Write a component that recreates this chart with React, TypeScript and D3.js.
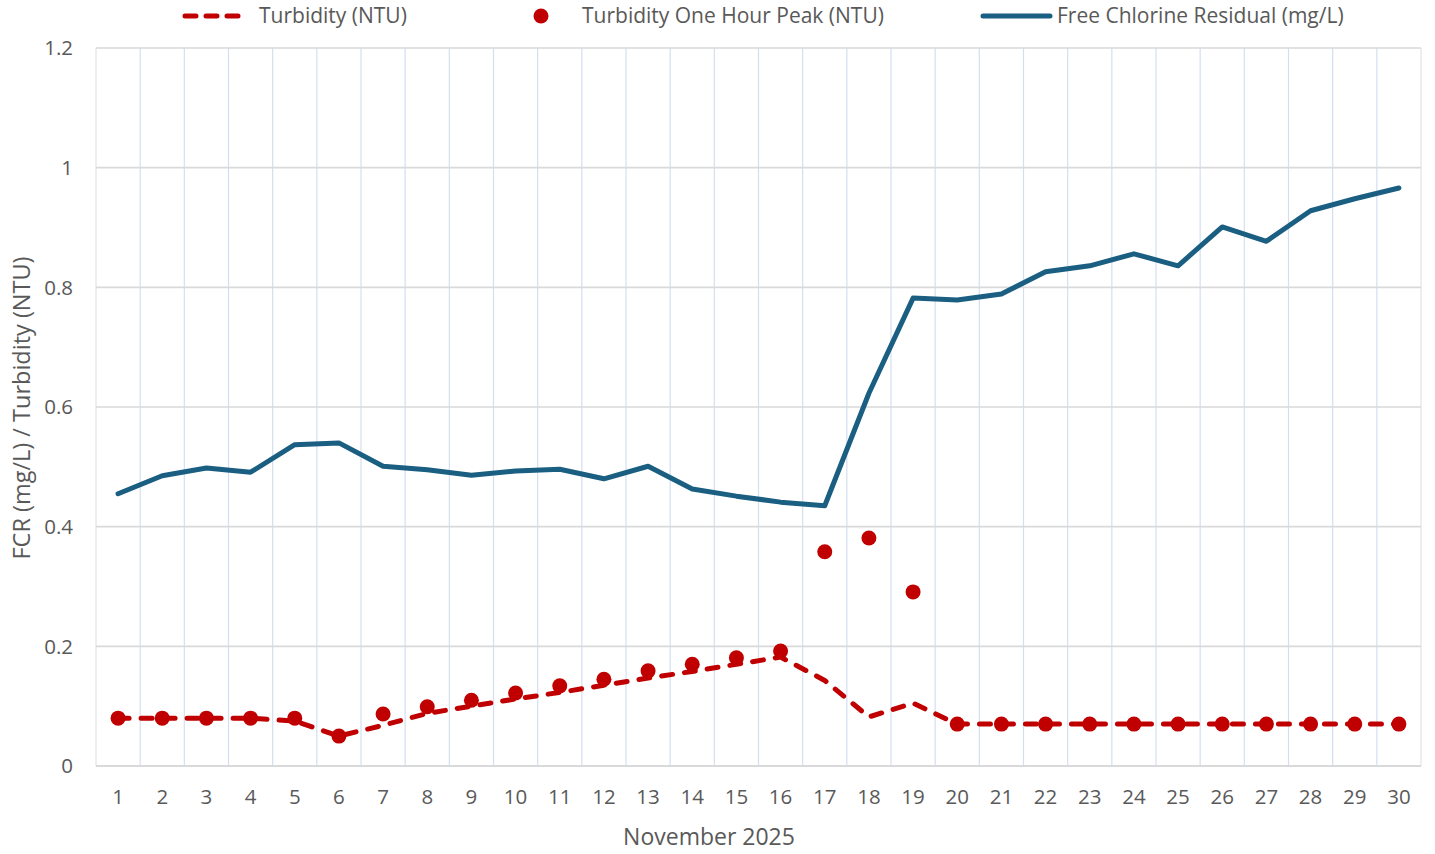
import React from "react";
import * as d3 from "d3";

const days: number[] = Array.from({ length: 30 }, (_, i) => i + 1);
const turbidity: number[] = [0.08, 0.08, 0.08, 0.08, 0.075, 0.05, 0.068, 0.088, 0.1, 0.112, 0.123, 0.135, 0.147, 0.158, 0.17, 0.182, 0.143, 0.082, 0.105, 0.07, 0.07, 0.07, 0.07, 0.07, 0.07, 0.07, 0.07, 0.07, 0.07, 0.07];
const turbidityPeak: number[] = [0.08, 0.08, 0.08, 0.08, 0.08, 0.05, 0.087, 0.099, 0.11, 0.122, 0.134, 0.145, 0.159, 0.17, 0.181, 0.192, 0.358, 0.381, 0.291, 0.07, 0.07, 0.07, 0.07, 0.07, 0.07, 0.07, 0.07, 0.07, 0.07, 0.07];
const fcr: number[] = [0.455, 0.485, 0.498, 0.491, 0.537, 0.54, 0.501, 0.495, 0.486, 0.493, 0.496, 0.48, 0.501, 0.463, 0.451, 0.441, 0.435, 0.623, 0.782, 0.779, 0.789, 0.826, 0.836, 0.856, 0.836, 0.901, 0.877, 0.928, 0.948, 0.966];
const yTicks: number[] = [0, 0.2, 0.4, 0.6, 0.8, 1, 1.2];
const seriesNames: string[] = ["Turbidity (NTU)", "Turbidity One Hour Peak (NTU)", "Free Chlorine Residual (mg/L)"];
const xTitle = "November 2025";
const yTitle = "FCR (mg/L) / Turbidity (NTU)";

const W = 1435, H = 854;
const left = 96, right = 1421, top = 48, bottom = 766;
const RED = "#C00000";
const BLUE = "#1A5E82";
const TXT = "#595959";
const FONT = "'Open Sans', 'Liberation Sans', sans-serif";

export default function App() {
  const x = d3.scalePoint<number>().domain(days).range([left, right]).padding(0.5);
  const y = d3.scaleLinear().domain([0, 1.2]).range([bottom, top]);
  const step = x.step();
  const line = d3.line<number>().x((_, i) => x(days[i])!).y((d) => y(d));
  const boundaries = d3.range(days.length + 1).map((i) => left + i * step);

  return (
    <svg width={W} height={H} style={{ position: "absolute", left: 0, top: 0 }} fontFamily={FONT}>
      <rect width={W} height={H} fill="#fff" />
      {boundaries.map((bx, i) => (
        <line key={"v" + i} x1={bx} x2={bx} y1={top} y2={bottom} stroke={i === 0 || i === days.length ? "#E3E3E3" : "#D3DFF1"} strokeWidth={1.2} />
      ))}
      {yTicks.map((t) => (
        <g key={"h" + t}>
          <line x1={left} x2={right} y1={y(t)} y2={y(t)} stroke="#D9D9D9" strokeWidth={t === 0 ? 2 : 1.6} />
          <text x={73} y={y(t)} dy="0.35em" textAnchor="end" fontSize={20.5} fill={TXT}>{String(t)}</text>
        </g>
      ))}
      {days.map((d) => (
        <text key={"x" + d} x={x(d)} y={797} dy="0.35em" textAnchor="middle" fontSize={20.5} fill={TXT}>{d}</text>
      ))}
      <text x={709} y={837} dy="0.35em" textAnchor="middle" fontSize={23} fill={TXT}>{xTitle}</text>
      <text transform={`translate(22, 408) rotate(-90)`} dy="0.35em" textAnchor="middle" fontSize={23.5} fill={TXT}>{yTitle}</text>

      <path d={line(fcr) ?? ""} fill="none" stroke={BLUE} strokeWidth={5} strokeLinejoin="round" strokeLinecap="round" />
      <path d={line(turbidity) ?? ""} fill="none" stroke={RED} strokeWidth={5} strokeDasharray="11 12" strokeLinejoin="round" strokeLinecap="round" />
      {turbidityPeak.map((v, i) => (
        <circle key={"p" + i} cx={x(days[i])} cy={y(v)} r={7.5} fill={RED} />
      ))}

      <g>
        <line x1={185} x2={243} y1={16} y2={16} stroke={RED} strokeWidth={5} strokeDasharray="11 10" strokeLinecap="round" />
        <text x={259} y={16} dy="0.35em" fontSize={21} fill={TXT}>{seriesNames[0]}</text>
        <circle cx={541} cy={16} r={7.5} fill={RED} />
        <text x={582} y={16} dy="0.35em" fontSize={21} fill={TXT}>{seriesNames[1]}</text>
        <line x1={983} x2={1050} y1={16} y2={16} stroke={BLUE} strokeWidth={5} strokeLinecap="round" />
        <text x={1057} y={16} dy="0.35em" fontSize={21} fill={TXT}>{seriesNames[2]}</text>
      </g>
    </svg>
  );
}
